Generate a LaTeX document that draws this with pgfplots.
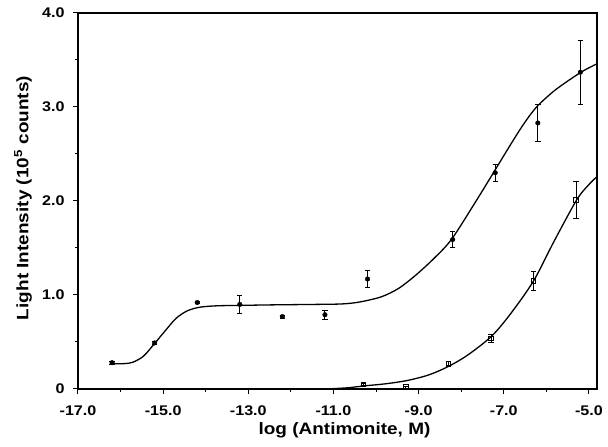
\documentclass[border=0pt]{standalone}
\usepackage{fontspec}
\setmainfont{Liberation Sans}[FakeStretch=1.15]
\usepackage{pgfplots}
\pgfplotsset{compat=1.18}

% filled circles: x, y, error
\pgfplotstableread{
x      y     ey
-16.2  0.28  0.015
-15.2  0.49  0.015
-14.2  0.92  0.015
-13.2  0.90  0.095
-12.2  0.77  0.015
-11.2  0.79  0.05
-10.2  1.17  0.095
-8.2   1.59  0.085
-7.2   2.30  0.09
-6.2   2.83  0.20
-5.2   3.37  0.34
}\filled
% open squares
\pgfplotstableread{
x      y     ey
-10.3  0.05  0.01
-9.3   0.02  0.01
-8.3   0.27  0.02
-7.3   0.54  0.04
-6.3   1.15  0.10
-5.3   2.01  0.20
}\open

\begin{document}
\begin{tikzpicture}
\begin{axis}[
  scale only axis, width=519bp, height=376bp,
  xmin=-17, xmax=-4.81, ymin=0, ymax=4,
  xtick={-17,-15,...,-5},
  xticklabels={-17.0,-15.0,-13.0,-11.0,-9.0,-7.0,-5.0},
  ytick={0,1,2,3,4},
  yticklabels={0,1.0,2.0,3.0,4.0},
  minor x tick num=1, minor y tick num=1,
  tick align=outside, tick pos=left,
  major tick length=5bp, minor tick length=3bp,
  every tick/.style={black, line width=1bp},
  axis line style={line width=1.5bp},
  tick label style={font=\fontsize{14bp}{16bp}\selectfont\bfseries},
  label style={font=\fontsize{16.5bp}{18bp}\selectfont\bfseries, inner sep=0pt},
  xlabel={log (Antimonite, M)},
  ylabel={Light Intensity (10\textsuperscript{5} counts)},
  xlabel style={at={(axis description cs:0.5,0)}, anchor=north, yshift=-33bp, xshift=7bp},
  ylabel style={at={(axis description cs:0,0.5)}, anchor=north, yshift=64bp, xshift=3bp},
  xticklabel style={yshift=-8bp},
  yticklabel style={xshift=-5bp},
]
  % fitted curves
  \addplot[black, line width=1.3bp, smooth, tension=0.5] coordinates {
    (-16.22,0.27) (-15.91,0.27) (-15.71,0.285) (-15.46,0.35) (-15.19,0.49)
    (-14.95,0.62) (-14.70,0.75) (-14.44,0.83) (-14.14,0.87) (-13.73,0.885)
    (-13.12,0.89) (-12.41,0.895) (-11.40,0.90) (-10.79,0.905) (-10.39,0.925)
    (-9.88,0.98) (-9.47,1.07) (-9.07,1.21) (-8.66,1.38) (-8.23,1.59)
    (-7.65,2.0) (-7.23,2.31) (-6.84,2.6) (-6.53,2.82) (-6.23,3.0)
    (-5.82,3.17) (-5.42,3.30) (-5.11,3.39) (-4.81,3.46)
  };
  \addplot[black, line width=1.3bp, smooth, tension=0.5] coordinates {
    (-11.20,0.0) (-10.69,0.012) (-10.23,0.035) (-9.78,0.055) (-9.27,0.09)
    (-8.76,0.15) (-8.30,0.24) (-7.85,0.36) (-7.29,0.56) (-6.84,0.80)
    (-6.30,1.15) (-5.82,1.57) (-5.29,2.01) (-5.01,2.17) (-4.81,2.26)
  };
  % data with error bars
  \addplot[black, only marks, mark=*, mark size=2.3bp,
    error bars/.cd, y dir=both, y explicit,
    error bar style={line width=0.9bp},
    error mark options={rotate=90, mark size=2.7bp, line width=0.9bp}]
    table[x=x, y=y, y error=ey] {\filled};
  \addplot[black, only marks, mark=square, mark size=2.3bp,
    mark options={fill=white, line width=0.8bp},
    error bars/.cd, y dir=both, y explicit,
    error bar style={line width=0.9bp},
    error mark options={rotate=90, mark size=2.7bp, line width=0.9bp}]
    table[x=x, y=y, y error=ey] {\open};
  \coordinate (bl) at (rel axis cs:0,0);
  \coordinate (tr) at (rel axis cs:1,1);
\end{axis}
\pgfresetboundingbox
\useasboundingbox ([shift={(-78bp,-58bp)}]bl) rectangle ([shift={(11bp,13bp)}]tr);
\end{tikzpicture}
\end{document}
